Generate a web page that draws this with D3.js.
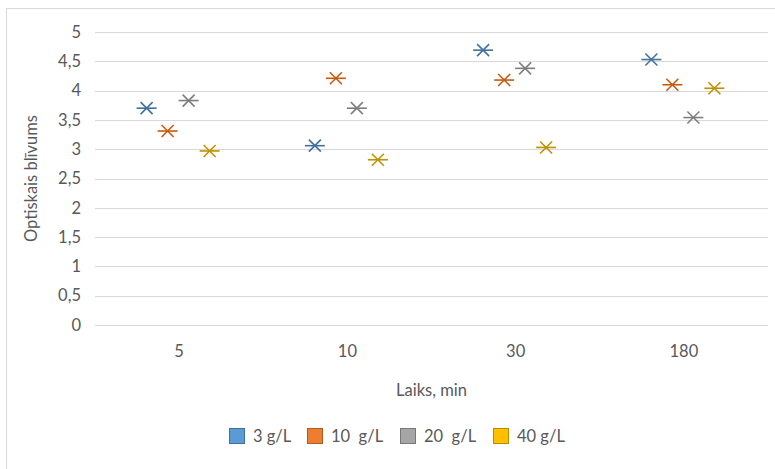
<!DOCTYPE html>
<html>
<head>
<meta charset="utf-8">
<script src="https://cdn.jsdelivr.net/npm/d3@7"></script>
<style>
  body { margin: 0; background: #fff; }
  text { font-family: Lato, "Open Sans", sans-serif; fill: #595959; }
</style>
</head>
<body>
<svg id="chart"></svg>
<script>
var width = 775, height = 469;

// data
var categories = ["5", "10", "30", "180"];
var seriesNames = ["3 g/L", "10  g/L", "20  g/L", "40 g/L"];
var s3 = [3.70, 3.06, 4.69, 4.53];
var s10 = [3.31, 4.21, 4.18, 4.10];
var s20 = [3.83, 3.70, 4.38, 3.54];
var s40 = [2.97, 2.82, 3.03, 4.04];
var yTicks = [0, 0.5, 1, 1.5, 2, 2.5, 3, 3.5, 4, 4.5, 5];

var markerColors = ["#41719C", "#C55A11", "#7F7F7F", "#BF9000"];
var legendFill = ["#5B9BD5", "#ED7D31", "#A5A5A5", "#FFC000"];
var legendStroke = ["#41719C", "#AE5A21", "#787878", "#BC8C00"];

var allSeries = [s3, s10, s20, s40];

var svg = d3.select("#chart")
  .attr("width", width)
  .attr("height", height);

// chart border
svg.append("rect")
  .attr("x", 6.5).attr("y", 8.5)
  .attr("width", 820).attr("height", 520)
  .attr("fill", "#fff")
  .attr("stroke", "#d9d9d9");

var plotLeft = 95, plotRight = 768, plotTop = 32, plotBottom = 325;
var fontSize = "16.5px";

var x = d3.scaleBand()
  .domain(categories)
  .range([plotLeft, plotRight]);

var xInner = d3.scaleBand()
  .domain(d3.range(seriesNames.length))
  .range([-43, 41]);

var y = d3.scaleLinear()
  .domain([0, 5])
  .range([plotBottom, plotTop]);

// gridlines
svg.append("g")
  .selectAll("line")
  .data(yTicks)
  .enter().append("line")
  .attr("x1", plotLeft).attr("x2", plotRight)
  .attr("y1", function(d) { return Math.round(y(d)) + 0.5; })
  .attr("y2", function(d) { return Math.round(y(d)) + 0.5; })
  .attr("stroke", "#d9d9d9")
  .attr("stroke-width", 1);

// y axis labels
var fmt = function(d) { return String(d).replace(".", ","); };
var yAxis = d3.axisLeft(y).tickValues(yTicks).tickFormat(fmt).tickSize(0).tickPadding(14);
var gy = svg.append("g")
  .attr("transform", "translate(" + plotLeft + ",0)")
  .call(yAxis);
gy.select(".domain").remove();
gy.selectAll("text")
  .style("font-family", "Lato, sans-serif")
  .style("font-size", fontSize)
  .attr("fill", "#595959");

// x axis labels
var xAxis = d3.axisBottom(x).tickSize(0).tickPadding(20);
var gx = svg.append("g")
  .attr("transform", "translate(0," + plotBottom + ")")
  .call(xAxis);
gx.select(".domain").remove();
gx.selectAll("text")
  .style("font-family", "Lato, sans-serif")
  .style("font-size", fontSize)
  .attr("fill", "#595959");

// axis titles
svg.append("text")
  .attr("x", (plotLeft + plotRight) / 2)
  .attr("y", 396)
  .attr("text-anchor", "middle")
  .style("font-size", fontSize)
  .text("Laiks, min");

svg.append("text")
  .attr("transform", "translate(37," + ((plotTop + plotBottom) / 2) + ") rotate(-90)")
  .attr("text-anchor", "middle")
  .style("font-size", fontSize)
  .text("Optiskais blīvums");

// star markers
function star(g, color) {
  g.append("line").attr("x1", -10).attr("x2", 10).attr("y1", 0).attr("y2", 0);
  g.append("line").attr("x1", -6).attr("x2", 6).attr("y1", -6).attr("y2", 6);
  g.append("line").attr("x1", -6).attr("x2", 6).attr("y1", 6).attr("y2", -6);
  g.selectAll("line").attr("stroke", color).attr("stroke-width", 1.6);
}

allSeries.forEach(function(vals, si) {
  var g = svg.append("g");
  vals.forEach(function(v, ci) {
    var cx = x(categories[ci]) + x.bandwidth() / 2 + xInner(si) + xInner.bandwidth() / 2;
    var m = g.append("g").attr("transform", "translate(" + cx + "," + y(v) + ")");
    star(m, markerColors[si]);
  });
});

// legend
var legendX = [229, 307, 400, 493];
var leg = svg.append("g");
seriesNames.forEach(function(name, i) {
  leg.append("rect")
    .attr("x", legendX[i] + 0.5).attr("y", 428.5)
    .attr("width", 15).attr("height", 15)
    .attr("fill", legendFill[i])
    .attr("stroke", legendStroke[i]);
  leg.append("text")
    .attr("x", legendX[i] + 24)
    .attr("y", 442)
    .style("font-size", fontSize)
    .style("white-space", "pre")
    .attr("xml:space", "preserve")
    .text(name);
});
</script>
</body>
</html>
